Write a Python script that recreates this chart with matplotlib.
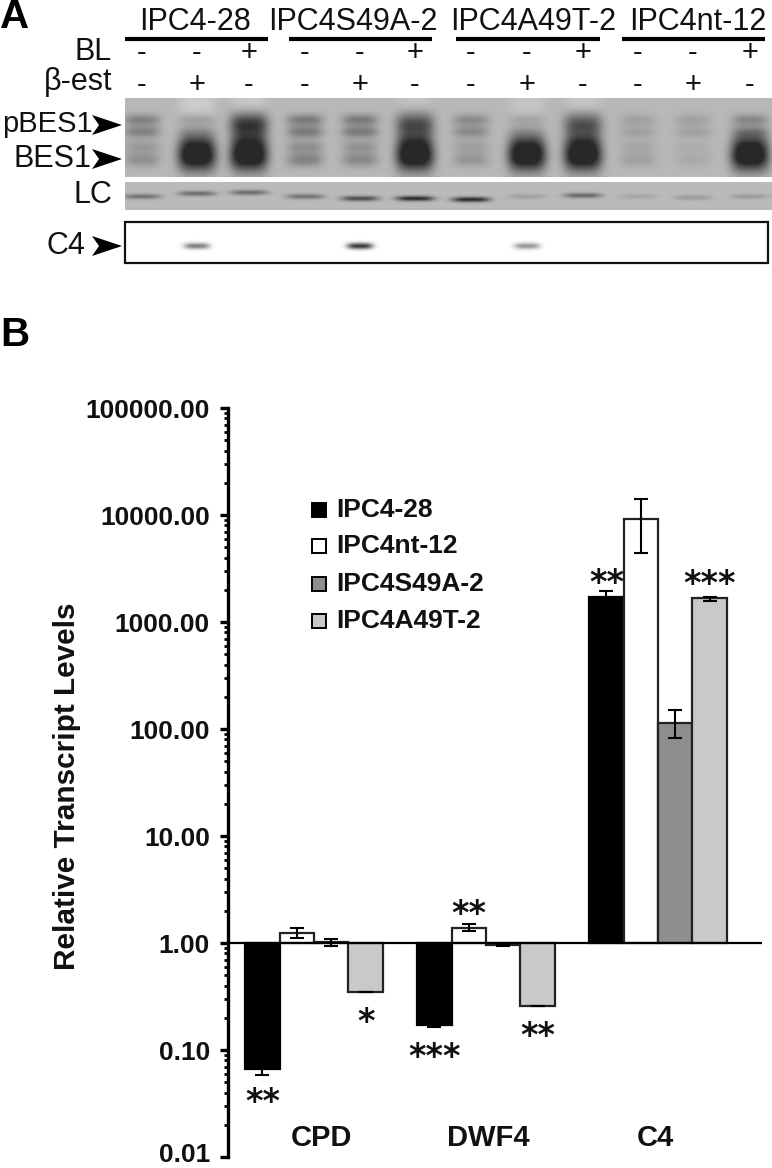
import numpy as np
import matplotlib
matplotlib.use("Agg")
import matplotlib.pyplot as plt
from matplotlib.patches import Polygon, Rectangle
from matplotlib.ticker import LogLocator, NullFormatter, FixedFormatter, FixedLocator
from matplotlib.transforms import Affine2D

plt.rcParams['font.family'] = ['Liberation Sans', 'DejaVu Sans']

# ---------- data: panel B ----------
genes = ['CPD', 'DWF4', 'C4']
series = ['IPC4-28', 'IPC4nt-12', 'IPC4S49A-2', 'IPC4A49T-2']
colors = ['#000000', '#ffffff', '#8e8e8e', '#c9c9c9']
ipc4_28 = [0.066, 0.170, 1730]
ipc4_nt = [1.245, 1.39, 9080]
ipc4_s49a = [1.02, 0.95, 115]
ipc4_a49t = [0.352, 0.26, 1660]
low_28 = [0.058, 0.165, 1550]
high_28 = [0.075, 0.175, 1930]
low_nt = [1.11, 1.30, 4370]
high_nt = [1.39, 1.49, 14260]
low_s49a = [0.93, 0.93, 82]
high_s49a = [1.10, 0.97, 149]
low_a49t = [0.352, 0.26, 1570]
high_a49t = [0.352, 0.26, 1730]
yticks = [0.01, 0.1, 1, 10, 100, 1000, 10000, 100000]
ytick_labels = ['0.01', '0.10', '1.00', '10.00', '100.00', '1000.00', '10000.00', '100000.00']
# (gene index, series index, stars)
stars = [(0, 0, '**'), (0, 3, '*'), (1, 0, '***'), (1, 1, '**'), (1, 3, '**'), (2, 0, '**'), (2, 3, '***')]

# ---------- data: panel A ----------
lines_a = ['IPC4-28', 'IPC4S49A-2', 'IPC4A49T-2', 'IPC4nt-12']
bl_signs = ['-', '-', '+'] * 4
est_signs = ['-', '+', '-'] * 4
pbes1 = [.42, .22, .95, .48, .48, .80, .36, .18, .75, .18, .18, .38]
bes1 = [.28, 1.0, 1.0, .38, .34, 1.0, .24, 1.0, 1.0, .17, .10, 1.0]
lc_level = [.28, .30, .30, .28, .42, .55, .55, .10, .32, .08, .12, .12]
lc_offset = [0, -3, -4, 0, 2, 2, 3, 0, -1, 0, 1, 0]
c4_level = [0, .55, 0, 0, .85, 0, 0, .45, 0, 0, 0, 0]
smear = [0, .08, .08, 0, 0, .05, 0, .05, .07, 0, 0, 0]

W, H = 772, 1168
fig = plt.figure(figsize=(W / 100, H / 100), dpi=100, facecolor='white')

# overlay in pixel coordinates for panel furniture
ov = fig.add_axes([0, 0, 1, 1], zorder=5)
ov.set_xlim(0, W)
ov.set_ylim(H, 0)
ov.axis('off')
ov.patch.set_alpha(0)

lane_x = [142, 197, 249, 305, 360, 415, 471, 527, 583, 638, 693, 750]


def blot(y0, y1, x0, x1, bg, bands):
    xs = np.arange(x0, x1) + .5
    ys = np.arange(y0, y1) + .5
    X, Y = np.meshgrid(xs, ys)
    img = np.full(X.shape, bg, dtype=float)
    for cx, cy, wx, wy, amp in bands:
        img -= amp * np.exp(-np.abs((X - cx) / wx) ** 3.5) * np.exp(-((Y - cy) / wy) ** 2)
    ov.imshow(np.clip(img, 0.16, 1), cmap='gray', vmin=0, vmax=1, extent=(x0, x1, y1, y0),
              aspect='auto', interpolation='bilinear', zorder=1)


bands = []
for cx, p, b, s in zip(lane_x, pbes1, bes1, smear):
    if s > 0:
        bands.append((cx, 104, 18, 14, -s))
    if p > .6:
        bands.append((cx, 125, 19, 13, p * .55))
    else:
        bands += [(cx, 120, 18, 6, p * .5), (cx, 132, 18, 6, p * .5)]
    if b > .6:
        bands.append((cx, 156, 19, 15, b * .72))
        bands.append((cx, 142, 18, 9, b * .2))
    else:
        bands += [(cx, 147, 18, 7, b * .42), (cx, 160, 18, 7, b * .55)]
blot(98, 177, 125, 772, .72, bands)
blot(182, 210, 125, 772, .73,
     [(cx, 196.5 + o, 19, 2.6, a) for cx, o, a in zip(lane_x, lc_offset, lc_level)])
blot(222, 263, 125, 768, 1.0,
     [(cx, 246, 13, 3.2, a * .9) for cx, a in zip(lane_x, c4_level) if a > 0])
ov.add_patch(Rectangle((125, 222), 643, 41, fill=False, ec='#111111', lw=1.6, zorder=2))
ov.set_xlim(0, W)
ov.set_ylim(H, 0)

for name, cx in zip(lines_a, [195, 353, 533, 698]):
    ov.text(cx, 22, name, fontsize=22, ha='center', va='center', color='#111111')
for xa, xb in [(125, 268), (289, 432), (456, 600), (622, 765)]:
    ov.plot([xa, xb], [39, 39], color='black', lw=3, solid_capstyle='butt')
ov.text(112, 52, 'BL', fontsize=22, ha='right', va='center', color='#111111')
ov.text(112, 82, 'β-est', fontsize=22, ha='right', va='center', color='#111111')
for cx, a, b in zip(lane_x, bl_signs, est_signs):
    ov.text(cx, 53, a, fontsize=21, ha='center', va='center', color='#111111')
    ov.text(cx, 85, b, fontsize=21, ha='center', va='center', color='#111111')
ov.text(93, 124, 'pBES1', fontsize=21, ha='right', va='center', color='#111111')
ov.text(92, 159, 'BES1', fontsize=22, ha='right', va='center', color='#111111')
ov.text(112, 195, 'LC', fontsize=22, ha='right', va='center', color='#111111')
ov.text(85, 246, 'C4', fontsize=22, ha='right', va='center', color='#111111')
for tip, back, cy in [(122, 92, 125), (122, 92, 159), (122, 92, 246)]:
    ov.add_patch(Polygon([(tip, cy), (back, cy - 10), (back + 7, cy), (back, cy + 10)],
                         closed=True, fc='black', ec='none', zorder=4))
ov.text(0, 17, 'A', fontsize=29, fontweight='bold', ha='left', va='center')
ov.text(0, 335, 'B', fontsize=29, fontweight='bold', ha='left', va='center')

# ---------- panel B chart ----------
ax_left, ax_right, ax_top, ax_bottom = 228, 762, 408, 1157
ax = fig.add_axes([ax_left / W, 1 - ax_bottom / H, (ax_right - ax_left) / W, (ax_bottom - ax_top) / H],
                  facecolor='none', zorder=3)
ax.set_yscale('log')
ax.set_ylim(0.01, 100000)
group_px, step_px = 314, 172
ax.set_xlim((ax_left - group_px) / step_px, (ax_right - group_px) / step_px)

values = [ipc4_28, ipc4_nt, ipc4_s49a, ipc4_a49t]
lows = [low_28, low_nt, low_s49a, low_a49t]
highs = [high_28, high_nt, high_s49a, high_a49t]
width = 0.2
idx = np.arange(len(genes), dtype=float)
for i, (vals, lo, hi, c) in enumerate(zip(values, lows, highs, colors)):
    xpos = idx + (i - 1.5) * width
    vals = np.array(vals)
    ax.bar(xpos, vals - 1, width=width, bottom=1, color=c, edgecolor='black' if i == 0 else '#222222',
           linewidth=1.6, zorder=2)
    ax.errorbar(xpos, vals, yerr=[vals - np.array(lo), np.array(hi) - vals], fmt='none',
                ecolor='black', elinewidth=1.5, capsize=5, capthick=1.5, zorder=3)
ax.axhline(1, color='black', lw=1.6, zorder=4)

star_offset = {(0, 0): -30, (0, 3): -27, (1, 0): -29, (1, 1): 17, (1, 3): -27, (2, 0): 17, (2, 3): 17}
for g, s, txt in stars:
    v = values[s][g]
    xpos = g + (s - 1.5) * width
    ax.annotate(txt, xy=(xpos, v), xytext=(0, star_offset[(g, s)]),
                textcoords='offset pixels', ha='center', va='center_baseline', fontsize=24,
                family='DejaVu Sans', fontweight='bold', color='#111111', zorder=6)

for spine in ['top', 'right', 'bottom']:
    ax.spines[spine].set_visible(False)
ax.spines['left'].set_linewidth(2.4)
ax.set_xticks([])
ax.yaxis.set_major_locator(FixedLocator(yticks))
ax.yaxis.set_major_formatter(FixedFormatter(ytick_labels))
ax.yaxis.set_minor_locator(LogLocator(base=10, subs=np.arange(2, 10), numticks=12))
ax.yaxis.set_minor_formatter(NullFormatter())
ax.tick_params(axis='y', which='major', length=6, width=2.4, pad=7, labelsize=19)
ax.tick_params(axis='y', which='minor', length=3, width=2)
for t in ax.get_yticklabels():
    t.set_fontweight('bold')
    t.set_color('#111111')
lowest = ax.get_yticklabels()[0]
lowest.set_transform(lowest.get_transform() + Affine2D().translate(0, 4))

fig.text(67 / W, 1 - 786 / H, 'Relative Transcript Levels', rotation=90, fontsize=21.4,
         fontweight='bold', ha='center', va='center', color='#111111', zorder=6)
for name, cx in zip(genes, [321, 488, 655]):
    ov.text(cx, 1138, name, fontsize=21, fontweight='bold', ha='center', va='center', color='#111111')

# legend
leg_y = [510, 546, 584, 621]
for name, c, y in zip(series, colors, leg_y):
    ov.add_patch(Rectangle((312, y - 7), 14, 14, fc=c, ec='black', lw=1.4, zorder=4))
    ov.text(336, y, name, fontsize=19, fontweight='bold', ha='left', va='center', color='#111111')

fig.savefig('out.png', dpi=100)
